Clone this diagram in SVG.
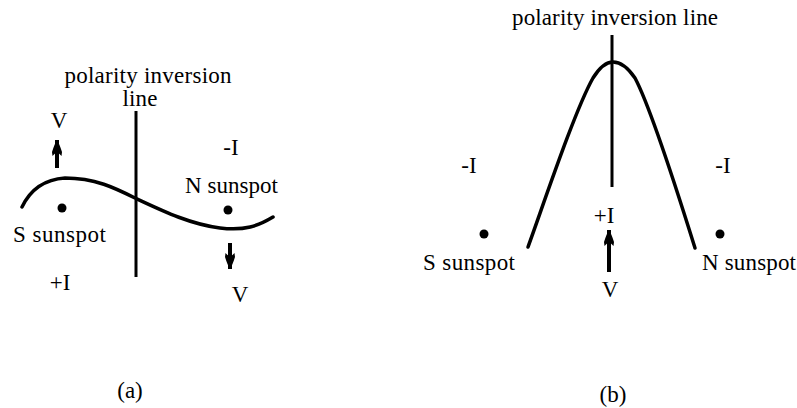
<svg xmlns="http://www.w3.org/2000/svg" width="797" height="408" viewBox="0 0 797 408" font-family="'Liberation Serif', 'Times New Roman', Tinos, 'DejaVu Serif', serif">
<style>
text{font-family:'Liberation Serif','Times New Roman',Tinos,'DejaVu Serif',serif;font-size:23px;fill:#000}
.m{text-anchor:middle}
.curve{fill:none;stroke:#000;stroke-width:3.5;stroke-linecap:round;stroke-linejoin:round}
.pil{stroke:#000;stroke-width:3}
.arr{stroke:#000;stroke-width:4;fill:none}
</style>
<defs>
<marker id="ah" markerUnits="userSpaceOnUse" viewBox="0 0 16 11" refX="16" refY="5.5" markerWidth="16" markerHeight="11" orient="auto">
<path d="M0,1 Q6,5.5 0,10 L4,10.5 Q12,8 16,5.5 Q12,3 4,0.5 Z" fill="#000"/>
</marker>
</defs>
<rect width="797" height="408" fill="#fff"/>
<g id="panel-a">
<text class="m" x="148" y="83" font-size="22" textLength="167">polarity inversion</text>
<text class="m" x="140" y="106" font-size="22" textLength="35">line</text>
<line class="pil" x1="136" y1="111" x2="136" y2="277"/>
<path class="curve" d="M22 207 Q35 180 65 178 C95 178 115 188 135 198 C165 212 190 224 220 228 C245 231 258 226 273 217"/>
<circle cx="62" cy="208" r="4.5"/>
<circle cx="228" cy="210" r="4.5"/>
<text class="m" x="59" y="128">V</text>
<text class="m" x="231" y="155">-I</text>
<text x="185" y="193" textLength="93">N sunspot</text>
<text x="13" y="242" textLength="93">S sunspot</text>
<text class="m" x="60" y="290">+I</text>
<text class="m" x="240" y="302">V</text>
<text class="m" x="130" y="398">(a)</text>
</g>
<g id="panel-b">
<text class="m" x="615" y="25" textLength="206">polarity inversion line</text>
<line class="pil" x1="612" y1="35" x2="612" y2="187"/>
<path class="curve" d="M528 247 C545 200 575 110 593 78 Q603 62 613 62 Q624 62 635 78 C652 110 680 200 695 248"/>
<circle cx="484" cy="234" r="4.5"/>
<circle cx="720" cy="234" r="4.5"/>
<text class="m" x="469" y="173">-I</text>
<text class="m" x="723" y="173">-I</text>
<text class="m" x="604" y="223">+I</text>
<text x="423" y="270" textLength="92">S sunspot</text>
<text x="702" y="270" textLength="94">N sunspot</text>
<text class="m" x="610" y="297">V</text>
<text class="m" x="613" y="402">(b)</text>
</g>
<g id="connectors">
<line class="arr" x1="57" y1="168" x2="57" y2="140" marker-end="url(#ah)"/>
<line class="arr" x1="230" y1="243" x2="230" y2="269" marker-end="url(#ah)"/>
<line class="arr" x1="609" y1="272" x2="609" y2="230" marker-end="url(#ah)"/>
</g>
</svg>
